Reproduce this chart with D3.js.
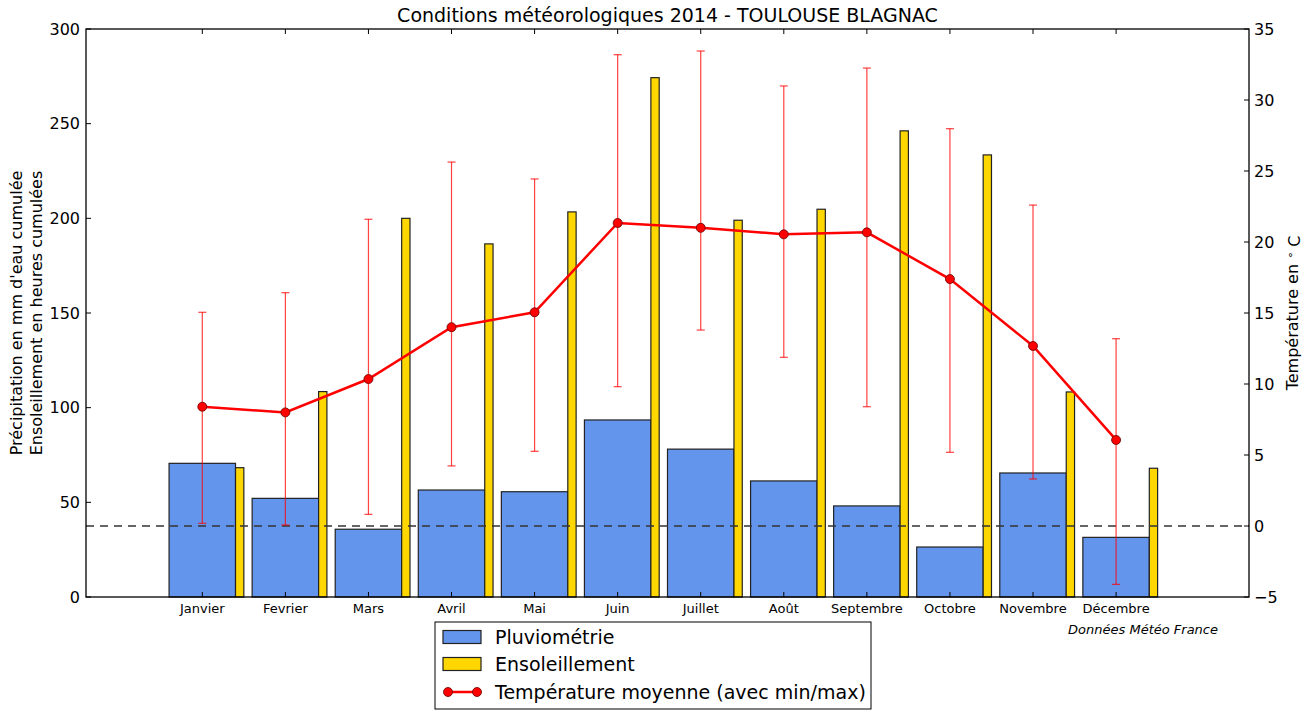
<!DOCTYPE html>
<html>
<head>
<meta charset="utf-8">
<script src="https://cdn.jsdelivr.net/npm/d3@7"></script>
<style>
  body { margin: 0; background: #fff; }
  text { font-family: "DejaVu Sans", sans-serif; fill: #000; }
</style>
</head>
<body>
<script>
'use strict';

// data
const months = ["Janvier", "Fevrier", "Mars", "Avril", "Mai", "Juin", "Juillet",
  "Août", "Septembre", "Octobre", "Novembre", "Décembre"];
const pluvio = [70.6, 52.1, 35.8, 56.5, 55.6, 93.5, 78.1, 61.3, 48.1, 26.4, 65.5, 31.5];
const soleil = [68.3, 108.5, 200.0, 186.5, 203.4, 274.3, 199.0, 204.8, 246.2, 233.5, 108.3, 68.0];
const tMoy = [8.4, 8.0, 10.35, 14.0, 15.05, 21.34, 21.0, 20.54, 20.68, 17.39, 12.68, 6.06];
const tMin = [0.19, 0.07, 0.82, 4.23, 5.26, 9.81, 13.8, 11.88, 8.4, 5.19, 3.31, -4.11];
const tMax = [15.05, 16.43, 21.6, 25.63, 24.44, 33.19, 33.45, 30.99, 32.25, 27.98, 22.6, 13.19];
const leftTicks = [0, 50, 100, 150, 200, 250, 300];
const rightTicks = [-5, 0, 5, 10, 15, 20, 25, 30, 35];

window.onload = function() {
  let width = 1309;
  let height = 710;
  let m = {left: 86, right: 1249, top: 29, bottom: 597};

  let svg = d3.select("body").append("svg")
    .attr("width", width)
    .attr("height", height);

  let x = d3.scaleLinear().domain([-1.4, 12.6]).range([m.left, m.right]);
  let yL = d3.scaleLinear().domain([0, 300]).range([m.bottom, m.top]);
  let yR = d3.scaleLinear().domain([-5, 35]).range([m.bottom, m.top]);

  let g = svg.append("g");

  // rain bars
  g.selectAll("rect.pluie")
    .data(pluvio)
    .enter()
    .append("rect")
    .attr("class", "pluie")
    .attr("x", (d, i) => x(i - 0.4))
    .attr("width", x(0.8) - x(0))
    .attr("y", d => yL(d))
    .attr("height", d => yL(0) - yL(d))
    .attr("fill", "#6495ED")
    .attr("stroke", "#222").attr("stroke-width", 1.2);

  // sunshine bars
  g.selectAll("rect.soleil")
    .data(soleil)
    .enter()
    .append("rect")
    .attr("class", "soleil")
    .attr("x", (d, i) => x(i + 0.4))
    .attr("width", x(0.1) - x(0))
    .attr("y", d => yL(d))
    .attr("height", d => yL(0) - yL(d))
    .attr("fill", "#FFD700")
    .attr("stroke", "#222").attr("stroke-width", 1.2);

  // 0 °C reference line, over the bars
  g.append("line")
    .attr("x1", m.left).attr("x2", m.right)
    .attr("y1", yR(0)).attr("y2", yR(0))
    .attr("stroke", "#333").attr("stroke-width", 1.5)
    .attr("stroke-dasharray", "8,6");

  // error bars min/max
  let err = g.append("g").attr("stroke", "#ff0000").attr("stroke-opacity", 0.75).attr("stroke-width", 1.2);
  months.forEach((mo, i) => {
    err.append("line")
      .attr("x1", x(i)).attr("x2", x(i))
      .attr("y1", yR(tMin[i])).attr("y2", yR(tMax[i]));
    [tMin[i], tMax[i]].forEach(v => {
      err.append("line")
        .attr("x1", x(i) - 4).attr("x2", x(i) + 4)
        .attr("y1", yR(v)).attr("y2", yR(v));
    });
  });

  // mean temperature
  let line = d3.line()
    .x((d, i) => x(i))
    .y(d => yR(d));
  g.append("path")
    .datum(tMoy)
    .attr("d", line)
    .attr("fill", "none")
    .attr("stroke", "#ff0000")
    .attr("stroke-width", 2.5);
  g.selectAll("circle.moy")
    .data(tMoy)
    .enter()
    .append("circle")
    .attr("class", "moy")
    .attr("cx", (d, i) => x(i))
    .attr("cy", d => yR(d))
    .attr("r", 4.5)
    .attr("fill", "#ff0000")
    .attr("stroke", "#600").attr("stroke-width", 0.8);

  // frame
  svg.append("rect")
    .attr("x", m.left).attr("y", m.top)
    .attr("width", m.right - m.left).attr("height", m.bottom - m.top)
    .attr("fill", "none").attr("stroke", "#000").attr("stroke-width", 1.3);

  // ticks
  let tk = svg.append("g").attr("stroke", "#000").attr("stroke-width", 1);
  months.forEach((mo, i) => {
    tk.append("line").attr("x1", x(i)).attr("x2", x(i)).attr("y1", m.bottom).attr("y2", m.bottom - 5);
    tk.append("line").attr("x1", x(i)).attr("x2", x(i)).attr("y1", m.top).attr("y2", m.top + 5);
  });
  leftTicks.forEach(v => {
    tk.append("line").attr("x1", m.left).attr("x2", m.left + 5).attr("y1", yL(v)).attr("y2", yL(v));
  });
  rightTicks.forEach(v => {
    tk.append("line").attr("x1", m.right).attr("x2", m.right - 5).attr("y1", yR(v)).attr("y2", yR(v));
  });

  // tick labels
  svg.selectAll("text.xl")
    .data(months)
    .enter()
    .append("text")
    .attr("class", "xl")
    .attr("x", (d, i) => x(i))
    .attr("y", m.bottom + 16)
    .attr("text-anchor", "middle")
    .style("font-size", "13px")
    .text(d => d);

  svg.selectAll("text.yl")
    .data(leftTicks)
    .enter()
    .append("text")
    .attr("class", "yl")
    .attr("x", m.left - 6)
    .attr("y", d => yL(d))
    .attr("dy", "0.36em")
    .attr("text-anchor", "end")
    .style("font-size", "16px")
    .text(d => d);

  svg.selectAll("text.yr")
    .data(rightTicks)
    .enter()
    .append("text")
    .attr("class", "yr")
    .attr("x", m.right + 5)
    .attr("y", d => yR(d))
    .attr("dy", "0.36em")
    .style("font-size", "16px")
    .text(d => d < 0 ? "\u2212" + Math.abs(d) : d);

  // titles
  svg.append("text")
    .attr("x", (m.left + m.right) / 2)
    .attr("y", 22)
    .attr("text-anchor", "middle")
    .style("font-size", "19px")
    .text("Conditions météorologiques 2014 - TOULOUSE BLAGNAC");

  let yc = (m.top + m.bottom) / 2;
  svg.append("text")
    .attr("transform", "translate(22," + yc + ") rotate(-90)")
    .attr("text-anchor", "middle")
    .style("font-size", "16px")
    .text("Précipitation en mm d'eau cumulée");
  svg.append("text")
    .attr("transform", "translate(42," + yc + ") rotate(-90)")
    .attr("text-anchor", "middle")
    .style("font-size", "16px")
    .text("Ensoleillement en heures cumulées");

  let rl = svg.append("text")
    .attr("transform", "translate(1298," + yc + ") rotate(-90)")
    .attr("text-anchor", "middle")
    .style("font-size", "16px");
  rl.append("tspan").text("Température en ");
  rl.append("tspan").attr("dy", "-0.4em").style("font-size", "11px").text("\u2218");
  rl.append("tspan").attr("dy", "0.4em").text(" C");

  svg.append("text")
    .attr("x", 1218)
    .attr("y", 634)
    .attr("text-anchor", "end")
    .style("font-size", "13px")
    .style("font-style", "italic")
    .text("Données Météo France");

  // legend
  let lg = svg.append("g");
  lg.append("rect")
    .attr("x", 435).attr("y", 622)
    .attr("width", 436).attr("height", 87)
    .attr("fill", "#fff").attr("stroke", "#000").attr("stroke-width", 1);
  let items = [
    {label: "Pluviométrie", color: "#6495ED", y: 637},
    {label: "Ensoleillement", color: "#FFD700", y: 664},
    {label: "Température moyenne (avec min/max)", color: "#ff0000", y: 692}
  ];
  items.forEach((it, k) => {
    if (k < 2) {
      lg.append("rect")
        .attr("x", 443).attr("y", it.y - 6.5)
        .attr("width", 38).attr("height", 13)
        .attr("fill", it.color).attr("stroke", "#222").attr("stroke-width", 1.2);
    } else {
      lg.append("line")
        .attr("x1", 448).attr("x2", 477).attr("y1", it.y).attr("y2", it.y)
        .attr("stroke", it.color).attr("stroke-width", 2.5);
      [448, 477].forEach(cx => {
        lg.append("circle").attr("cx", cx).attr("cy", it.y).attr("r", 4.5)
          .attr("fill", it.color).attr("stroke", "#600").attr("stroke-width", 0.8);
      });
    }
    lg.append("text")
      .attr("x", 495).attr("y", it.y)
      .attr("dy", "0.36em")
      .style("font-size", "19px")
      .text(it.label);
  });
};
</script>
</body>
</html>
